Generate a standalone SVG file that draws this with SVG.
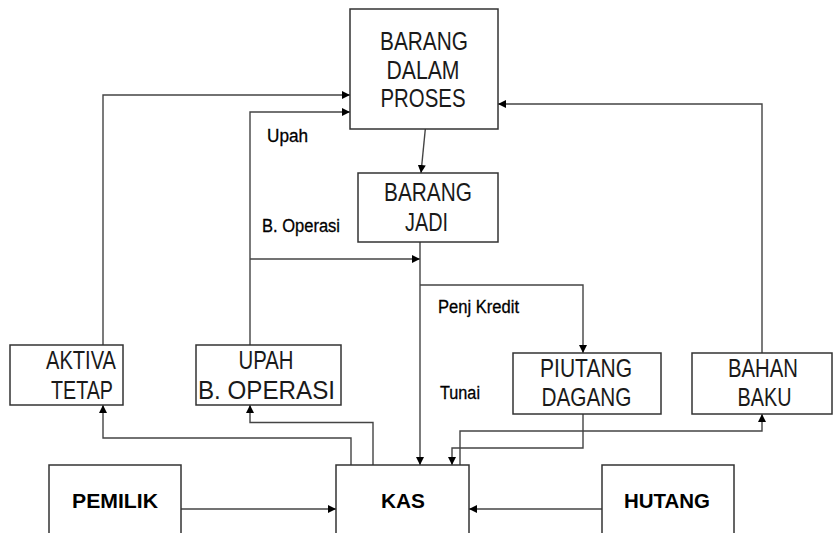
<svg xmlns="http://www.w3.org/2000/svg" width="833" height="533" viewBox="0 0 833 533">
<style>
.box{fill:#fff;stroke:#333;stroke-width:1.5}
.t{font-family:"Liberation Sans",Arial,sans-serif;font-size:25px;fill:#1a1a1a;text-anchor:middle}
.b{font-family:"Liberation Sans",Arial,sans-serif;font-size:21px;font-weight:bold;fill:#000;text-anchor:middle}
.l{font-family:"Liberation Sans",Arial,sans-serif;font-size:18px;fill:#000;stroke:#000;stroke-width:0.3}
.c{fill:none;stroke:#444;stroke-width:1.4}
</style>
<defs>
<marker id="ar" markerUnits="userSpaceOnUse" markerWidth="8" markerHeight="8" viewBox="0 0 10 10" refX="10" refY="5" orient="auto">
<path d="M0,0 L10,5 L0,10 Z" fill="#000"/>
</marker>
</defs>
<rect width="833" height="533" fill="#fff"/>
<g id="connectors">
<path class="c" d="M426,122 L421,173" marker-end="url(#ar)"/>
<path class="c" d="M103,345 V95 H350" marker-end="url(#ar)"/>
<path class="c" d="M250,345 V112 H350" marker-end="url(#ar)"/>
<path class="c" d="M250,259 H420" marker-end="url(#ar)"/>
<path class="c" d="M420,242 V465" marker-end="url(#ar)"/>
<path class="c" d="M420,285 H583 V353" marker-end="url(#ar)"/>
<path class="c" d="M762,353 V104 H498" marker-end="url(#ar)"/>
<path class="c" d="M351,465 V438 H103 V405" marker-end="url(#ar)"/>
<path class="c" d="M373,465 V422.5 H250 V405" marker-end="url(#ar)"/>
<path class="c" d="M583,414 V448 H452 V465" marker-end="url(#ar)"/>
<path class="c" d="M460,465 V431 H762 V414" marker-end="url(#ar)"/>
<path class="c" d="M181,509 H336" marker-end="url(#ar)"/>
<path class="c" d="M602,509 H469" marker-end="url(#ar)"/>
</g>
<g id="labels">
<text class="l" x="267" y="142" textLength="41" lengthAdjust="spacingAndGlyphs">Upah</text>
<text class="l" x="262" y="232" textLength="78" lengthAdjust="spacingAndGlyphs">B. Operasi</text>
<text class="l" x="438" y="313" textLength="81" lengthAdjust="spacingAndGlyphs">Penj Kredit</text>
<text class="l" x="440" y="399" textLength="40" lengthAdjust="spacingAndGlyphs">Tunai</text>
</g>
<g id="barang-dalam-proses">
<rect class="box" x="350" y="9" width="148" height="120"/>
<text class="t" x="424" y="50" textLength="88" lengthAdjust="spacingAndGlyphs">BARANG</text>
<text class="t" x="423" y="79" textLength="73" lengthAdjust="spacingAndGlyphs">DALAM</text>
<text class="t" x="423" y="107" textLength="85" lengthAdjust="spacingAndGlyphs">PROSES</text>
</g>
<g id="barang-jadi">
<rect class="box" x="358" y="173" width="140" height="69"/>
<text class="t" x="428" y="201" textLength="88" lengthAdjust="spacingAndGlyphs">BARANG</text>
<text class="t" x="426.5" y="231" textLength="43" lengthAdjust="spacingAndGlyphs">JADI</text>
</g>
<g id="aktiva-tetap">
<rect class="box" x="10" y="345" width="113" height="60"/>
<text class="t" x="81" y="369" textLength="70" lengthAdjust="spacingAndGlyphs">AKTIVA</text>
<text class="t" x="82" y="399" textLength="62" lengthAdjust="spacingAndGlyphs">TETAP</text>
</g>
<g id="upah-b-operasi">
<rect class="box" x="196" y="345" width="145" height="60"/>
<text class="t" x="266" y="369" textLength="55" lengthAdjust="spacingAndGlyphs">UPAH</text>
<text class="t" x="266.5" y="399" textLength="137" lengthAdjust="spacingAndGlyphs">B. OPERASI</text>
</g>
<g id="piutang-dagang">
<rect class="box" x="513" y="353" width="148" height="61"/>
<text class="t" x="586" y="377" textLength="92" lengthAdjust="spacingAndGlyphs">PIUTANG</text>
<text class="t" x="586.5" y="406" textLength="90" lengthAdjust="spacingAndGlyphs">DAGANG</text>
</g>
<g id="bahan-baku">
<rect class="box" x="692" y="353" width="140" height="61"/>
<text class="t" x="763" y="377" textLength="70" lengthAdjust="spacingAndGlyphs">BAHAN</text>
<text class="t" x="764.5" y="406" textLength="54" lengthAdjust="spacingAndGlyphs">BAKU</text>
</g>
<g id="pemilik">
<rect class="box" x="49" y="465" width="132" height="80"/>
<text class="b" x="115" y="508" textLength="86" lengthAdjust="spacingAndGlyphs">PEMILIK</text>
</g>
<g id="kas">
<rect class="box" x="336" y="465" width="133" height="80"/>
<text class="b" x="403" y="508" textLength="44" lengthAdjust="spacingAndGlyphs">KAS</text>
</g>
<g id="hutang">
<rect class="box" x="602" y="465" width="132" height="80"/>
<text class="b" x="667" y="508" textLength="86" lengthAdjust="spacingAndGlyphs">HUTANG</text>
</g>
</svg>
